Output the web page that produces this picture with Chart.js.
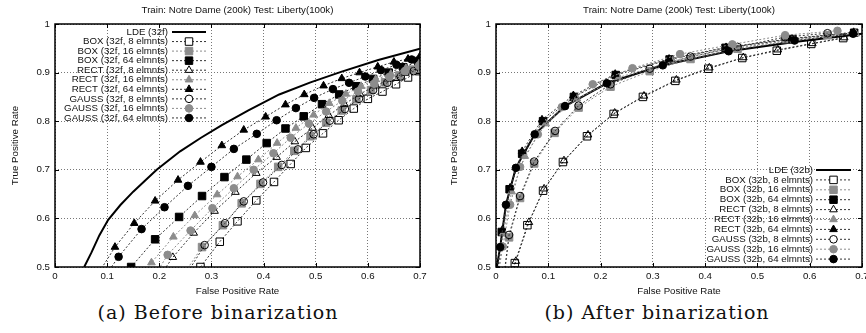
<!DOCTYPE html>
<html>
<head>
<meta charset="utf-8">
<script src="https://cdn.jsdelivr.net/npm/chart.js@4"></script>
<style>
  body { margin: 0; width: 866px; height: 333px; overflow: hidden; position: relative; background: #fff; }
  canvas { position: absolute; top: 0; }
  .cap { position: absolute; top: 300px; line-height: 24px; font-family: "DejaVu Serif", serif; font-size: 19px;
         letter-spacing: 1px; white-space: nowrap; transform: translateX(-50%); color: #111; }
</style>
</head>
<body>
<canvas id="before" width="433" height="300" style="left:0"></canvas>
<canvas id="after" width="450" height="300" style="left:433px"></canvas>
<div class="cap" style="left:218px">(a) Before binarization</div>
<div class="cap" style="left:657px">(b) After binarization</div>
<script>
const plotTitle = "Train: Notre Dame (200k) Test: Liberty(100k)";
const xTicks = [0, 0.1, 0.2, 0.3, 0.4, 0.5, 0.6, 0.7];
const yTicks = [0.5, 0.6, 0.7, 0.8, 0.9, 1];

const labelsBefore = ["LDE (32f)", "BOX (32f, 8 elmnts)", "BOX (32f, 16 elmnts)", "BOX (32f, 64 elmnts)",
  "RECT (32f, 8 elmnts)", "RECT (32f, 16 elmnts)", "RECT (32f, 64 elmnts)",
  "GAUSS (32f, 8 elmnts)", "GAUSS (32f, 16 elmnts)", "GAUSS (32f, 64 elmnts)"];
const labelsAfter = ["LDE (32b)", "BOX (32b, 8 elmnts)", "BOX (32b, 16 elmnts)", "BOX (32b, 64 elmnts)",
  "RECT (32b, 8 elmnts)", "RECT (32b, 16 elmnts)", "RECT (32b, 64 elmnts)",
  "GAUSS (32b, 8 elmnts)", "GAUSS (32b, 16 elmnts)", "GAUSS (32b, 64 elmnts)"];

// (a) before binarization: [false positive rate, true positive rate]
const ldeBefore = [[0.056,0.5],[0.07,0.53],[0.085,0.565],[0.102,0.597],[0.125,0.627],[0.15,0.655],[0.175,0.68],
  [0.195,0.7],[0.24,0.738],[0.28,0.766],[0.32,0.792],[0.37,0.822],[0.43,0.855],[0.49,0.88],[0.55,0.902],[0.62,0.926],[0.7,0.949]];
const box8Before = [[0.265,0.48],[0.279,0.5],[0.316,0.552],[0.35,0.594],[0.386,0.637],[0.42,0.675],[0.452,0.712],[0.481,0.745],
  [0.514,0.775],[0.544,0.802],[0.573,0.826],[0.6,0.846],[0.628,0.861],[0.654,0.876],[0.677,0.89],[0.698,0.903]];
const box16Before = [[0.25,0.49],[0.282,0.541],[0.322,0.586],[0.358,0.631],[0.394,0.671],[0.428,0.706],[0.459,0.739],[0.49,0.769],
  [0.52,0.797],[0.55,0.822],[0.578,0.845],[0.606,0.864],[0.633,0.88],[0.66,0.894],[0.685,0.906],[0.703,0.915]];
const box64Before = [[0.118,0.46],[0.146,0.5],[0.192,0.557],[0.238,0.603],[0.282,0.646],[0.325,0.685],[0.367,0.721],[0.406,0.755],
  [0.442,0.785],[0.477,0.81],[0.512,0.835],[0.545,0.855],[0.578,0.872],[0.61,0.887],[0.64,0.9],[0.668,0.911],[0.697,0.923]];
const rect8Before = [[0.2,0.48],[0.226,0.52],[0.266,0.57],[0.306,0.615],[0.346,0.654],[0.386,0.693],[0.425,0.726],[0.46,0.758],
  [0.494,0.786],[0.525,0.812],[0.555,0.835],[0.585,0.856],[0.615,0.873],[0.643,0.887],[0.672,0.899],[0.698,0.91]];
const rect16Before = [[0.16,0.47],[0.185,0.509],[0.227,0.562],[0.268,0.606],[0.311,0.649],[0.35,0.686],[0.39,0.721],[0.426,0.755],
  [0.462,0.786],[0.496,0.813],[0.526,0.837],[0.558,0.856],[0.587,0.872],[0.615,0.886],[0.644,0.897],[0.673,0.909],[0.698,0.918]];
const rect64Before = [[0.085,0.49],[0.115,0.541],[0.152,0.59],[0.192,0.636],[0.236,0.679],[0.279,0.716],[0.32,0.75],[0.362,0.782],
  [0.404,0.809],[0.442,0.834],[0.478,0.855],[0.515,0.873],[0.55,0.888],[0.584,0.9],[0.619,0.912],[0.65,0.922],[0.677,0.928],[0.7,0.934]];
const gauss8Before = [[0.255,0.49],[0.287,0.545],[0.326,0.59],[0.362,0.635],[0.399,0.674],[0.435,0.71],[0.466,0.742],[0.496,0.773],
  [0.527,0.801],[0.556,0.825],[0.583,0.846],[0.61,0.864],[0.637,0.879],[0.663,0.892],[0.688,0.903]];
const gauss16Before = [[0.19,0.48],[0.216,0.525],[0.26,0.575],[0.302,0.621],[0.343,0.662],[0.381,0.7],[0.419,0.734],[0.452,0.766],
  [0.487,0.795],[0.52,0.82],[0.551,0.842],[0.581,0.861],[0.612,0.877],[0.641,0.891],[0.671,0.903],[0.698,0.914]];
const gauss64Before = [[0.095,0.48],[0.122,0.521],[0.166,0.578],[0.21,0.623],[0.255,0.667],[0.3,0.706],[0.343,0.743],[0.387,0.774],
  [0.425,0.802],[0.462,0.827],[0.497,0.848],[0.533,0.866],[0.564,0.879],[0.595,0.892],[0.625,0.905],[0.655,0.916],[0.684,0.927]];

// (b) after binarization
const ldeAfter = [[0,0.49],[0.008,0.541],[0.019,0.628],[0.038,0.704],[0.074,0.773],[0.132,0.831],[0.212,0.878],[0.319,0.915],
  [0.445,0.944],[0.571,0.963],[0.685,0.978],[0.7,0.98]];
const box8After = [[0.03,0.49],[0.036,0.508],[0.06,0.586],[0.09,0.657],[0.128,0.716],[0.174,0.769],[0.225,0.815],[0.281,0.85],
  [0.343,0.883],[0.406,0.908],[0.471,0.93],[0.537,0.945],[0.603,0.959],[0.664,0.971]];
const box16After = [[0.017,0.49],[0.025,0.561],[0.046,0.642],[0.073,0.713],[0.112,0.776],[0.158,0.828],[0.219,0.871],[0.294,0.903],
  [0.372,0.928],[0.462,0.949],[0.553,0.969],[0.634,0.977]];
const box64After = [[0.003,0.49],[0.011,0.572],[0.026,0.66],[0.05,0.733],[0.09,0.8],[0.149,0.85],[0.229,0.895],[0.332,0.927],
  [0.439,0.951],[0.567,0.969],[0.685,0.982]];
const rect8After = [[0.032,0.49],[0.038,0.512],[0.063,0.592],[0.092,0.661],[0.13,0.719],[0.176,0.772],[0.227,0.817],[0.283,0.852],
  [0.345,0.885],[0.408,0.91],[0.473,0.931],[0.539,0.947],[0.605,0.96],[0.666,0.972]];
const rect16After = [[0.005,0.49],[0.014,0.57],[0.03,0.655],[0.055,0.728],[0.095,0.795],[0.155,0.846],[0.235,0.89],[0.338,0.924],
  [0.445,0.949],[0.57,0.967],[0.688,0.98]];
const rect64After = [[0.003,0.49],[0.012,0.576],[0.027,0.663],[0.05,0.738],[0.088,0.803],[0.148,0.853],[0.228,0.897],[0.331,0.928],
  [0.44,0.952],[0.566,0.97],[0.684,0.983]];
const gauss8After = [[0.016,0.49],[0.025,0.566],[0.046,0.646],[0.073,0.717],[0.113,0.78],[0.158,0.832],[0.219,0.876],[0.294,0.908],
  [0.372,0.933],[0.462,0.953],[0.553,0.973],[0.634,0.981]];
const gauss16After = [[0.005,0.49],[0.013,0.542],[0.027,0.628],[0.046,0.706],[0.08,0.773],[0.126,0.829],[0.185,0.876],[0.261,0.909],
  [0.352,0.938],[0.452,0.958],[0.553,0.977],[0.653,0.986]];
const gauss64After = [[0.001,0.49],[0.008,0.541],[0.019,0.628],[0.038,0.704],[0.074,0.773],[0.132,0.831],[0.212,0.878],[0.319,0.915],
  [0.445,0.944],[0.571,0.966],[0.683,0.98]];

const GRAY = "#8c8c8c";
const CLEAR = "rgba(0,0,0,0)";
const radius = { rect: 5.3, triangle: 4.4, circle: 3.8 };
// one style per legend row
const styles = [
  { color: "#000", width: 2, dash: [] },
  { shape: "rect", fill: CLEAR, edge: "#000", color: "#333" },
  { shape: "rect", fill: GRAY, edge: GRAY, color: GRAY },
  { shape: "rect", fill: "#000", edge: "#000", color: "#333" },
  { shape: "triangle", fill: CLEAR, edge: "#000", color: "#333" },
  { shape: "triangle", fill: GRAY, edge: GRAY, color: GRAY },
  { shape: "triangle", fill: "#000", edge: "#000", color: "#333" },
  { shape: "circle", fill: CLEAR, edge: "#000", color: "#333" },
  { shape: "circle", fill: GRAY, edge: GRAY, color: GRAY },
  { shape: "circle", fill: "#000", edge: "#000", color: "#333" }
];

Chart.defaults.font.family = '"Liberation Sans", Arial, sans-serif';
Chart.defaults.font.size = 9.7;
Chart.defaults.color = "#111";

function marker(ctx, shape, x, y, r) {
  ctx.beginPath();
  if (shape === "rect") {
    const s = r * Math.SQRT1_2;
    ctx.rect(x - s, y - s, 2 * s, 2 * s);
  } else if (shape === "triangle") {
    ctx.moveTo(x, y - r);
    ctx.lineTo(x + 0.866 * r, y + 0.5 * r);
    ctx.lineTo(x - 0.866 * r, y + 0.5 * r);
    ctx.closePath();
  } else {
    ctx.arc(x, y, r, 0, Math.PI * 2);
  }
}

const decor = {
  id: "decor",
  afterDraw(chart, args, opts) {
    const { ctx, chartArea: a, scales } = chart;
    ctx.save();
    // title
    ctx.fillStyle = "#111";
    ctx.font = '9.7px "Liberation Sans", Arial, sans-serif';
    ctx.textAlign = "center";
    ctx.textBaseline = "middle";
    ctx.fillText(plotTitle, (a.left + a.right) / 2, 10);
    // frame with inward ticks
    ctx.strokeStyle = "#000";
    ctx.lineWidth = 1;
    ctx.beginPath();
    xTicks.forEach(v => {
      const px = Math.round(scales.x.getPixelForValue(v)) + 0.5;
      ctx.moveTo(px, a.bottom); ctx.lineTo(px, a.bottom - 4);
      ctx.moveTo(px, a.top); ctx.lineTo(px, a.top + 4);
    });
    yTicks.forEach(v => {
      const py = Math.round(scales.y.getPixelForValue(v)) + 0.5;
      ctx.moveTo(a.left, py); ctx.lineTo(a.left + 4, py);
      ctx.moveTo(a.right, py); ctx.lineTo(a.right - 4, py);
    });
    ctx.stroke();
    ctx.lineWidth = 1.5;
    ctx.strokeRect(a.left, a.top, a.right - a.left, a.bottom - a.top);
    // key
    chart.data.datasets.forEach((d, i) => {
      const y = opts.top + i * opts.step;
      const s = styles[i];
      ctx.fillStyle = "#111";
      ctx.textAlign = "right";
      ctx.fillText(d.label, opts.right, y);
      ctx.strokeStyle = d.borderColor;
      ctx.lineWidth = d.borderWidth;
      ctx.setLineDash(d.borderDash);
      ctx.beginPath();
      ctx.moveTo(opts.x1, y); ctx.lineTo(opts.x2, y);
      ctx.stroke();
      ctx.setLineDash([]);
      if (s.shape) {
        marker(ctx, s.shape, (opts.x1 + opts.x2) / 2, y, radius[s.shape]);
        ctx.fillStyle = s.fill === CLEAR ? "#fff" : s.fill;
        ctx.fill();
        ctx.strokeStyle = s.edge;
        ctx.lineWidth = 1;
        ctx.stroke();
      }
    });
    ctx.restore();
  }
};

function buildChart(id, series, labels, o) {
  return new Chart(document.getElementById(id), {
    type: "scatter",
    data: {
      datasets: series.map((pts, i) => {
        const s = styles[i];
        return {
          label: labels[i],
          data: pts.map(([x, y]) => ({ x, y })),
          showLine: true,
          borderColor: s.color,
          borderWidth: s.width || 1,
          borderDash: s.dash || [2, 2],
          pointStyle: s.shape || "circle",
          pointRadius: s.shape ? radius[s.shape] : 0,
          pointBackgroundColor: s.fill,
          pointBorderColor: s.edge,
          pointBorderWidth: 1,
          order: series.length - i
        };
      })
    },
    options: {
      responsive: false,
      animation: false,
      events: [],
      layout: { padding: { top: 24, right: o.padRight, left: 0, bottom: 0 } },
      plugins: { legend: { display: false }, tooltip: { enabled: false }, decor: o.key },
      scales: {
        x: {
          type: "linear", min: 0, max: 0.7,
          afterBuildTicks: s => { s.ticks = xTicks.map(v => ({ value: v })); },
          afterFit: s => { s.height = 33; },
          ticks: { padding: 4, callback: v => String(+v.toFixed(1)) },
          grid: { color: "#777", lineWidth: 1, drawTicks: false },
          border: { display: false, dash: [1, 2] },
          title: { display: true, text: "False Positive Rate", padding: { top: 0, bottom: 2.5 } }
        },
        y: {
          type: "linear", min: 0.5, max: 1,
          afterBuildTicks: s => { s.ticks = yTicks.map(v => ({ value: v })); },
          afterFit: s => { s.width = o.yWidth; },
          ticks: { padding: 5, callback: v => String(+v.toFixed(1)) },
          grid: { color: "#777", lineWidth: 1, drawTicks: false },
          border: { display: false, dash: [1, 2] },
          title: { display: true, text: "True Positive Rate", padding: { top: o.yTitlePad, bottom: 0 } }
        }
      }
    },
    plugins: [decor]
  });
}

buildChart("before",
  [ldeBefore, box8Before, box16Before, box64Before, rect8Before, rect16Before, rect64Before, gauss8Before, gauss16Before, gauss64Before],
  labelsBefore,
  { padRight: 13, yWidth: 55, yTitlePad: 9.2, key: { right: 168, top: 32, step: 9.55, x1: 172, x2: 206 } });

buildChart("after",
  [ldeAfter, box8After, box16After, box64After, rect8After, rect16After, rect64After, gauss8After, gauss16After, gauss64After],
  labelsAfter,
  { padRight: 21, yWidth: 63, yTitlePad: 16, key: { right: 380, top: 170, step: 9.9, x1: 383, x2: 418 } });
</script>
</body>
</html>
